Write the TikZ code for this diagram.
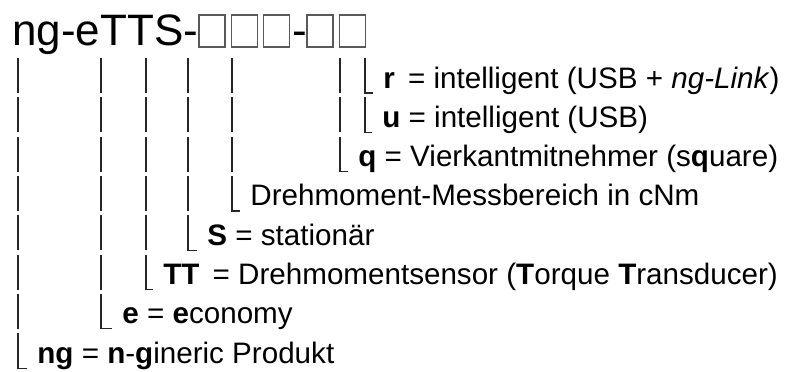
\documentclass[tikz,border=0pt]{standalone}
\usepackage{fontspec}
\setmainfont{Liberation Sans}
\usetikzlibrary{positioning}

\begin{document}
\begin{tikzpicture}[
    x=0.5pt, y=-0.5pt,
    bar/.style={line width=0.6pt, black!85},
    slot/.style={draw=black!65, line width=0.6pt, minimum width=13pt, minimum height=16pt, inner sep=0pt},
    code/.style={anchor=base west, inner sep=0pt, font=\fontsize{22}{26}\selectfont},
    lbl/.style={anchor=base west, inner sep=0pt, font=\fontsize{14.8}{17}\selectfont}
]
\useasboundingbox (0,0) rectangle (795,371);

% Product code
\node[code] (name) at (12,45) {ng-eTTS-};
\node[slot] (s1) at (212,31) {};
\node[slot, right=2.5pt of s1] (s2) {};
\node[slot, right=2.5pt of s2] (s3) {};
\node[code] (dash) at (292,45) {-};
\node[slot] (s4) at (320,31) {};
\node[slot, right=2.5pt of s4] (s5) {};

% Explanations
\node[lbl] (lr) at (383,88) {\textbf{r} \,= intelligent (USB + \textit{ng-Link})};
\node[lbl] (lu) at (382,127.3) {\textbf{u} = intelligent (USB)};
\node[lbl] (lq) at (358,166.6) {\textbf{q} = Vierkantmitnehmer (s\textbf{q}uare)};
\node[lbl] (lrange) at (250,205.9) {Drehmoment-Messbereich in cNm};
\node[lbl] (lS) at (207,245.2) {\textbf{S} = stationär};
\node[lbl] (lTT) at (163,284.5) {\textbf{TT} \,= Drehmomentsensor (\textbf{T}orque \textbf{T}ransducer)};
\node[lbl] (le) at (122,323.8) {\textbf{e} = \textbf{e}conomy};
\node[lbl] (lng) at (37,363.1) {\textbf{ng} = \textbf{n}-\textbf{g}ineric Produkt};

% Vertical bars
\foreach \col/\last in {18/6, 101/5, 146/4, 188/3, 232/2, 340/1}
  \foreach \row in {0,...,\last}
    \draw[bar] (\col,58+39.3*\row) -- (\col,93+39.3*\row);

% Corners
\foreach \lbl/\col/\row in {lr/365/0, lu/365/1, lq/340/2, lrange/232/3, lS/188/4, lTT/146/5, le/101/6, lng/18/7}
  \draw[bar] (\col,58+39.3*\row) |- ([shift={(-5pt,-2.5pt)}]\lbl.base west);

\end{tikzpicture}
\end{document}
